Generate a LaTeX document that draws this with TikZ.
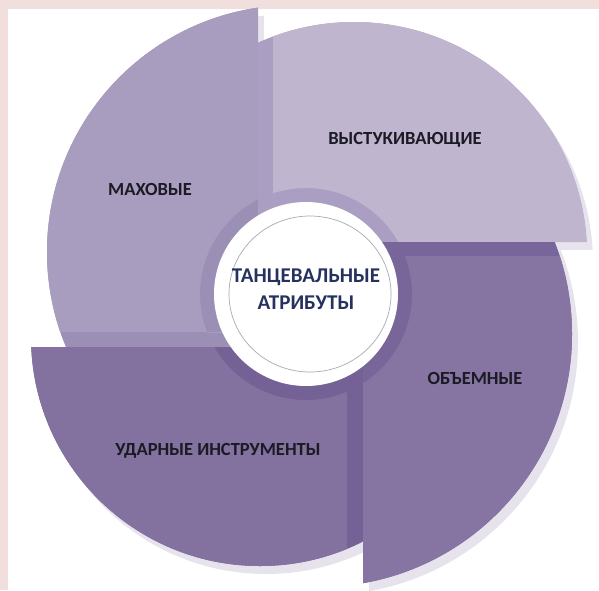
\documentclass[tikz,border=0pt]{standalone}
\usepackage{fontspec}
\setmainfont{Carlito}
\usepackage{tikz}
\usetikzlibrary{positioning}

\definecolor{framepink}{HTML}{F1DFDE}
\definecolor{petalshade}{HTML}{E6E3EC}
\definecolor{tlface}{HTML}{A99DBF}
\definecolor{tlside}{HTML}{9C8FB6}
\definecolor{trface}{HTML}{BFB5CF}
\definecolor{trside}{HTML}{AA9FC2}
\definecolor{brface}{HTML}{8675A2}
\definecolor{brside}{HTML}{78669A}
\definecolor{blface}{HTML}{83719F}
\definecolor{blside}{HTML}{746195}
\definecolor{labelink}{HTML}{1C1A24}
\definecolor{hubink}{HTML}{25325F}
\definecolor{hubring}{HTML}{A9A9B2}

\tikzset{
  lbl/.style={font=\fontsize{18.5}{20}\selectfont\bfseries, text=labelink, inner sep=0pt},
  hub/.style={font=\fontsize{21}{27}\selectfont\bfseries, text=hubink, align=center, inner sep=0pt},
}

% #1 centre, #2 radius, #3 side box, #4 face box, #5 side colour, #6 face colour
\newcommand{\petal}[6]{%
  \begin{scope}
    \clip #1 circle (#2);
    \fill[#5] #3;
    \clip #4;
    \fill[#6, even odd rule] #4 (C) circle (106);
  \end{scope}}
\newcommand{\petalshadow}[3]{%
  \begin{scope}[shift={(6,8)}]
    \clip #1 circle (#2);
    \fill[petalshade] #3;
  \end{scope}}

\begin{document}
\begin{tikzpicture}[x=1pt, y=-1pt]

    \useasboundingbox (0,0) rectangle (599,590);
    \fill[framepink] (0,0) rectangle (599,9);
    \fill[framepink] (0,0) rectangle (8,590);

    \coordinate (C) at (306,294);

    \petalshadow{(294,252)}{247}{(0,0) rectangle (258,347)}
    \petalshadow{(354,255)}{233}{(258,0) rectangle (599,242)}
    \petalshadow{(319,334)}{253}{(363,242) rectangle (599,590)}
    \petalshadow{(260,337)}{229}{(0,347) rectangle (363,590)}

    \petal{(294,252)}{247}{(0,0) rectangle (258,347)}{(0,0) rectangle (258,332)}{tlside}{tlface}
    \petal{(354,255)}{233}{(258,0) rectangle (599,242)}{(273,0) rectangle (599,242)}{trside}{trface}
    \petal{(319,334)}{253}{(363,242) rectangle (599,590)}{(363,256) rectangle (599,590)}{brside}{brface}
    \petal{(260,337)}{229}{(0,347) rectangle (363,590)}{(0,347) rectangle (347,590)}{blside}{blface}

    \fill[white] (C) circle (92);
    \draw[hubring, line width=0.7pt] (310,294) ellipse (81 and 78);

    \node[lbl] (swing) at (150,189) {МАХОВЫЕ};
    \node[lbl] (tap) at (405,140) {ВЫСТУКИВАЮЩИЕ};
    \node[lbl] (bulk) at (475,378) {ОБЪЕМНЫЕ};
    \node[lbl] (drums) at (218,451) {УДАРНЫЕ ИНСТРУМЕНТЫ};
    \node[hub] (attr) at (306,289) {ТАНЦЕВАЛЬНЫЕ\\АТРИБУТЫ};

\end{tikzpicture}
\end{document}
